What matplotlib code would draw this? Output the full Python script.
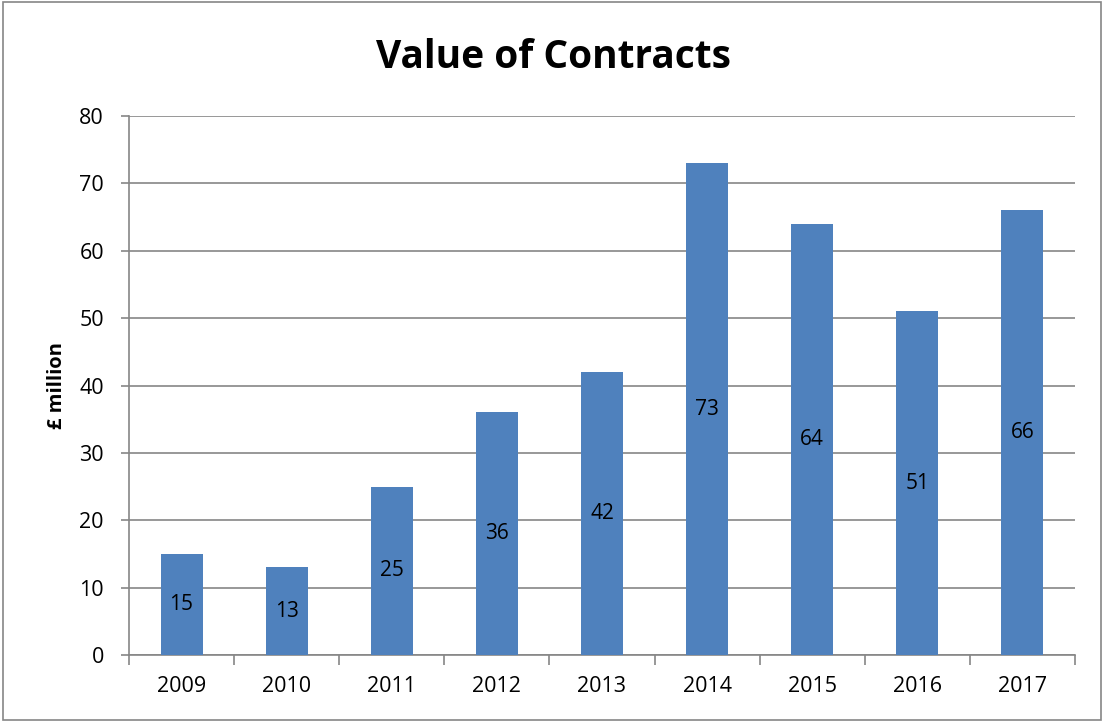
import matplotlib.pyplot as plt
from matplotlib.patches import Rectangle

years = ['2009', '2010', '2011', '2012', '2013', '2014', '2015', '2016', '2017']
values = [15, 13, 25, 36, 42, 73, 64, 51, 66]

plt.rcParams['font.family'] = ['Open Sans', 'DejaVu Sans']

fig = plt.figure(figsize=(11.06, 7.22), dpi=100)
ax = fig.add_axes([129 / 1106, 1 - 655 / 722, (1075 - 129) / 1106, (655 - 116) / 722])

grey = '#868686'
x = list(range(len(years)))
bars = ax.bar(x, values, width=0.4, color='#4F81BD', zorder=3)

for xi, v in zip(x, values):
    ax.text(xi, v / 2, str(v), ha='center', va='center', fontsize=15, color='black', zorder=4)

ax.set_xlim(-0.5, len(years) - 0.5)
ax.set_ylim(0, 80)
ax.set_yticks(range(0, 81, 10))
ax.yaxis.grid(True, color=grey, linewidth=1.2, zorder=0)

# years sit between the tick marks
ax.set_xticks([i - 0.5 for i in range(len(years) + 1)])
ax.set_xticklabels([])
ax.set_xticks(x, minor=True)
ax.set_xticklabels(years, minor=True, fontsize=15.5)
ax.tick_params(axis='x', which='minor', length=0, pad=15)
ax.tick_params(axis='x', which='major', length=7, color=grey, width=1.2)
ax.tick_params(axis='y', length=6, color=grey, width=1.2, labelsize=15.5, pad=12)

for side in ['top', 'right']:
    ax.spines[side].set_visible(False)
for side in ['left', 'bottom']:
    ax.spines[side].set_color(grey)
    ax.spines[side].set_linewidth(1.2)

ax.set_ylabel('£ million', fontsize=14.5, fontweight='bold', labelpad=9)
fig.text(0.5, 1 - 57 / 722, 'Value of Contracts', ha='center', va='center',
         fontsize=28, fontweight='bold')

fig.patches.append(Rectangle((3 / 1106, 2 / 722), 1098 / 1106, 718 / 722, transform=fig.transFigure,
                             fill=False, edgecolor=grey, linewidth=1.2))

fig.savefig('out.png', dpi=100)
